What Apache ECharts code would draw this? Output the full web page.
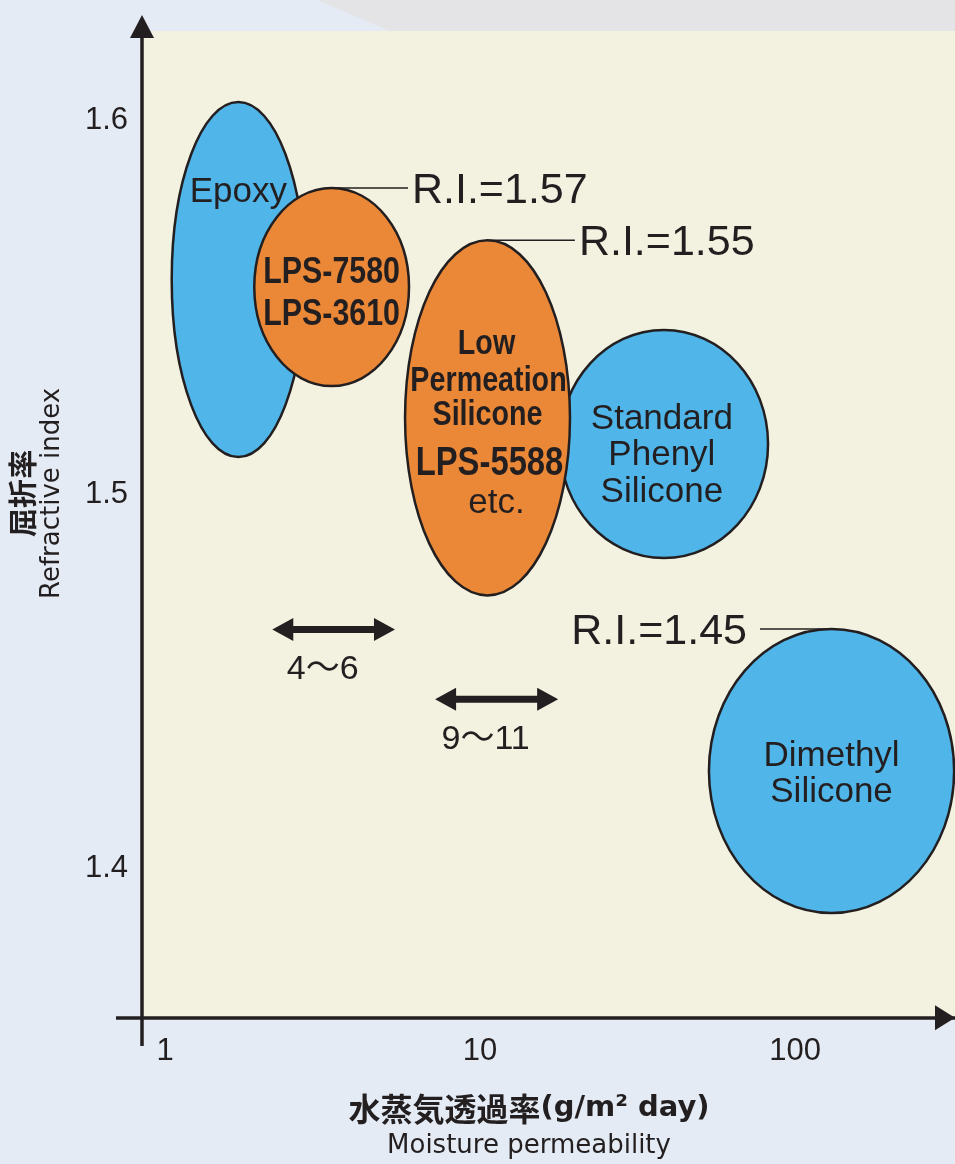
<!DOCTYPE html>
<html><head><meta charset="utf-8">
<script src="https://cdn.jsdelivr.net/npm/echarts@6/dist/echarts.min.js"></script>
<style>html,body{margin:0;padding:0;background:#e4ebf4}#c{width:955px;height:1164px}</style>
</head><body><div id="c"></div>
<script>
// ---- data ----
const materials = ['Epoxy', 'LPS-7580 / LPS-3610', 'Standard Phenyl Silicone', 'Low Permeation Silicone LPS-5588 etc.', 'Dimethyl Silicone'];
const materialLines = [['Epoxy'], ['LPS-7580', 'LPS-3610'], ['Standard', 'Phenyl', 'Silicone'], ['Low', 'Permeation', 'Silicone', 'LPS-5588', 'etc.'], ['Dimethyl', 'Silicone']];
const materialGroup = ['general', 'lps', 'general', 'lps', 'general'];
const permMin = [1.05, 1.92, 17.9, 5.78, 53.3];   // moisture permeability (g/m2 day), left edge
const permMax = [2.78, 5.95, 82.1, 19.3, 320];    // right edge
const riMin = [1.510, 1.529, 1.483, 1.473, 1.388]; // refractive index, bottom edge
const riMax = [1.605, 1.582, 1.544, 1.568, 1.464]; // top edge

const calloutText = ['R.I.=1.57', 'R.I.=1.55', 'R.I.=1.45'];
const calloutOf = [1, 3, 4];
const calloutPerm = [6.08, 20.6, 70.4];
const calloutSide = ['right', 'right', 'left'];

const rangeText = ['4〜6', '9〜11'];
const rangeFrom = [2.19, 7.20];
const rangeTo = [5.37, 17.7];
const rangeRI = [1.4639, 1.4452];

const xTicks = [1, 10, 100];
const yTicks = [1.4, 1.5, 1.6];

// ---- styles ----
const INK = '#231f20';
const FILL = { general: '#50b5e8', lps: '#ea8838' };
const REG = { fontFamily: '"Liberation Sans", Arial, sans-serif', fontWeight: 'normal', sx: 1 };
const NARB = { fontFamily: '"Liberation Sans", Arial, sans-serif', fontWeight: 'bold', sx: 0.82 };
const LINE_LAYOUT = [
  [{ dx: 0, dy: -87, s: 35, f: REG }],
  [{ dx: 0, dy: -14, s: 37, f: NARB }, { dx: 0, dy: 28, s: 37, f: NARB }],
  [{ dx: -2, dy: -25, s: 35, f: REG }, { dx: -2, dy: 11.5, s: 35, f: REG }, { dx: -2, dy: 48, s: 35, f: REG }],
  [{ dx: -1, dy: -74, s: 35, f: NARB }, { dx: 1, dy: -37, s: 35, f: NARB }, { dx: 0, dy: -3, s: 35, f: NARB }, { dx: 2, dy: 46, s: 40, f: NARB }, { dx: 9, dy: 85, s: 35, f: REG }],
  [{ dx: 0, dy: -15, s: 35, f: REG }, { dx: 0, dy: 21, s: 35, f: REG }]
];

const GRID = { left: 142, top: 31, right: 0, bottom: 146 };
const AXIS_Y = 1164 - GRID.bottom;
const TICK_FONT = '"Liberation Sans", Arial, sans-serif';

const chart = echarts.init(document.getElementById('c'));

function isPow10(v) { const l = Math.log10(v); return Math.abs(l - Math.round(l)) < 1e-6; }

const option = {
  backgroundColor: '#e4ebf4',
  animation: false,
  grid: { left: GRID.left, top: GRID.top, right: GRID.right, bottom: GRID.bottom, show: true, backgroundColor: '#f3f1e0', borderWidth: 0 },
  graphic: [
    { type: 'polygon', z: -1, shape: { points: [[317, 0], [955, 0], [955, GRID.top], [390, GRID.top]] }, style: { fill: '#e4e4e6' } },
    { type: 'line', z: 50, shape: { x1: GRID.left, y1: AXIS_Y, x2: GRID.left, y2: AXIS_Y + 28 }, style: { stroke: INK, lineWidth: 3.5 } },
    { type: 'line', z: 50, shape: { x1: GRID.left - 26, y1: AXIS_Y, x2: GRID.left, y2: AXIS_Y }, style: { stroke: INK, lineWidth: 3.5 } }
  ],
  xAxis: {
    type: 'log', logBase: 10, min: 0.845, max: 322,
    axisLine: { show: true, lineStyle: { color: INK, width: 3.5 }, symbol: ['none', 'triangle'], symbolSize: [25, 20], symbolOffset: [0, -10] },
    axisTick: { show: false }, splitLine: { show: false }, minorTick: { show: false },
    axisLabel: { margin: 18, color: INK, fontSize: 31, fontFamily: TICK_FONT,
      showMinLabel: false, showMaxLabel: false,
      formatter: v => (isPow10(v) && xTicks.includes(Math.round(v))) ? String(Math.round(v)) : '' },
    name: '{c|水蒸気透過率}{l|(g/m² day)}\n{m|Moisture permeability}',
    nameLocation: 'middle', nameGap: 72,
    nameTextStyle: {
      padding: [0, 39, 0, 0],
      rich: {
        c: { fontFamily: '"Noto Sans CJK JP"', fontWeight: 'bold', fontSize: 32, color: INK, lineHeight: 37.5 },
        l: { fontFamily: '"DejaVu Sans"', fontWeight: 'bold', fontSize: 29, color: INK, lineHeight: 37.5 },
        m: { fontFamily: '"DejaVu Sans"', fontWeight: 'normal', fontSize: 26, color: INK, lineHeight: 37.5 }
      }
    }
  },
  yAxis: {
    type: 'value', min: 1.36, max: 1.624, interval: 0.02,
    axisLine: { show: true, lineStyle: { color: INK, width: 3.5 }, symbol: ['none', 'triangle'], symbolSize: [24, 23], symbolOffset: [0, 4.5] },
    axisTick: { show: false }, splitLine: { show: false },
    axisLabel: { margin: 14, color: INK, fontSize: 31, fontFamily: TICK_FONT,
      showMinLabel: false, showMaxLabel: false,
      formatter: v => { const t = Math.round(v * 10) / 10; return (Math.abs(v - t) < 1e-6 && yTicks.includes(t)) ? t.toFixed(1) : ''; } },
    name: '{c|屈折率}\n{r|Refractive index}',
    nameLocation: 'middle', nameRotate: 90, nameGap: 76,
    nameTextStyle: {
      padding: [0, 0, 0, 62],
      rich: {
        c: { fontFamily: '"Noto Sans CJK JP"', fontWeight: 'bold', fontSize: 29, color: INK, lineHeight: 31 },
        r: { fontFamily: '"DejaVu Sans"', fontWeight: 'normal', fontSize: 26, color: INK, lineHeight: 28 }
      }
    }
  },
  series: [
    {
      type: 'custom', name: 'materials', z: 3,
      data: materials.map((m, i) => [permMin[i], permMax[i], riMin[i], riMax[i]]),
      encode: { x: [0, 1], y: [2, 3] },
      renderItem: (params, api) => {
        const i = params.dataIndex;
        const tl = api.coord([api.value(0), api.value(3)]);
        const br = api.coord([api.value(1), api.value(2)]);
        const cx = (tl[0] + br[0]) / 2, cy = (tl[1] + br[1]) / 2;
        const children = [{
          type: 'ellipse',
          shape: { cx: cx, cy: cy, rx: (br[0] - tl[0]) / 2, ry: (br[1] - tl[1]) / 2 },
          style: { fill: FILL[materialGroup[i]], stroke: INK, lineWidth: 2.5 }
        }];
        materialLines[i].forEach((t, k) => {
          const L = LINE_LAYOUT[i][k];
          children.push({ type: 'text', x: cx + L.dx, y: cy + L.dy, scaleX: L.f.sx,
            style: { text: t, x: 0, y: 0, align: 'center', verticalAlign: 'middle',
              fontSize: L.s, fontFamily: L.f.fontFamily, fontWeight: L.f.fontWeight, fill: INK } });
        });
        return { type: 'group', children: children };
      }
    },
    {
      type: 'custom', name: 'callouts', z: 4,
      data: calloutText.map((t, j) => [calloutPerm[j], riMax[calloutOf[j]]]),
      encode: { x: 0, y: 1 },
      renderItem: (params, api) => {
        const j = params.dataIndex;
        const e = calloutOf[j];
        const top = api.coord([Math.sqrt(permMin[e] * permMax[e]), riMax[e]]);
        const anchor = api.coord([calloutPerm[j], riMax[e]]);
        const right = calloutSide[j] === 'right';
        const lineEnd = right ? anchor[0] - 4 : anchor[0] + 13;
        return { type: 'group', children: [
          { type: 'line', shape: { x1: top[0], y1: top[1], x2: lineEnd, y2: top[1] }, style: { stroke: INK, lineWidth: 1.6 } },
          { type: 'text', style: { text: calloutText[j], x: anchor[0], y: top[1] + 3, align: right ? 'left' : 'right', verticalAlign: 'middle',
            fontSize: 43, fontFamily: '"Liberation Sans", Arial, sans-serif', fill: INK } }
        ] };
      }
    },
    {
      type: 'custom', name: 'ranges', z: 4,
      data: rangeText.map((t, j) => [rangeFrom[j], rangeTo[j], rangeRI[j]]),
      encode: { x: [0, 1], y: 2 },
      renderItem: (params, api) => {
        const j = params.dataIndex;
        const a = api.coord([api.value(0), api.value(2)]);
        const b = api.coord([api.value(1), api.value(2)]);
        const y = a[1], x0 = a[0], x1 = b[0], hl = 21, hh = 11.5, sh = 3.5;
        const pts = [[x0, y], [x0 + hl, y - hh], [x0 + hl, y - sh], [x1 - hl, y - sh], [x1 - hl, y - hh], [x1, y],
          [x1 - hl, y + hh], [x1 - hl, y + sh], [x0 + hl, y + sh], [x0 + hl, y + hh]];
        return { type: 'group', children: [
          { type: 'polygon', shape: { points: pts }, style: { fill: INK } },
          { type: 'text', style: { text: rangeText[j], x: (x0 + x1) / 2 - 11, y: y + 40, align: 'center', verticalAlign: 'middle',
            fontSize: 34, fontFamily: '"Liberation Sans", "Noto Sans CJK JP", sans-serif', fill: INK } }
        ] };
      }
    }
  ]
};
chart.setOption(option);
</script></body></html>
